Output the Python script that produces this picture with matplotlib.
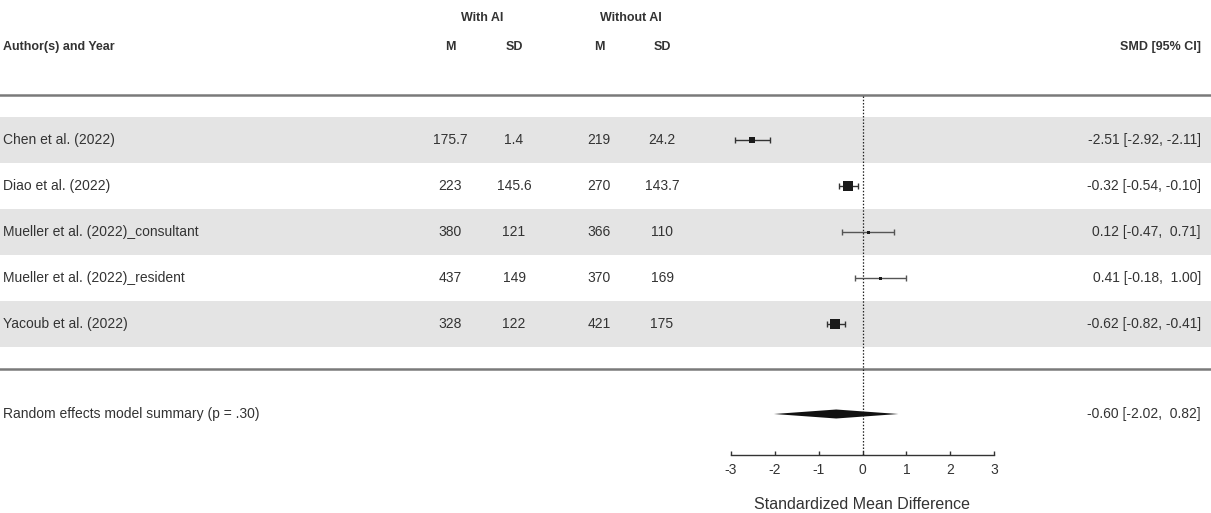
import matplotlib
matplotlib.use("Agg")
import matplotlib.pyplot as plt
import numpy as np
from matplotlib.patches import Polygon, Rectangle

plt.rcParams['font.family'] = ['Liberation Sans', 'DejaVu Sans']

# ---- data -------------------------------------------------------------
studies = [
    "Chen et al. (2022)",
    "Diao et al. (2022)",
    "Mueller et al. (2022)_consultant",
    "Mueller et al. (2022)_resident",
    "Yacoub et al. (2022)",
]
ai_mean = [175.7, 223, 380, 437, 328]
ai_sd = [1.4, 145.6, 121, 149, 122]
noai_mean = [219, 270, 366, 370, 421]
noai_sd = [24.2, 143.7, 110, 169, 175]
smd = [-2.51, -0.32, 0.12, 0.41, -0.62]
ci_low = [-2.92, -0.54, -0.47, -0.18, -0.82]
ci_high = [-2.11, -0.10, 0.71, 1.00, -0.41]

summary_label = "Random effects model summary (p = .30)"
summary_smd = -0.60
summary_low = -2.02
summary_high = 0.82

x_ticks = [-3, -2, -1, 0, 1, 2, 3]
x_label = "Standardized Mean Difference"

# ---- layout (pixel coordinates, y downward) ---------------------------
W, H = 1211, 513
TXT = "#333333"
BAND = "#e4e4e4"
RULE = "#7a7a7a"
row_y = [140 + 46 * i for i in range(len(studies))]
sum_y = 414
col_m1, col_sd1, col_m2, col_sd2 = 450, 514, 599, 662
right_x = 1201
fs = 10

fig = plt.figure(figsize=(W / 100, H / 100), dpi=100)
ax = fig.add_axes([0, 0, 1, 1])
ax.set_xlim(0, W)
ax.set_ylim(H, 0)
ax.axis("off")

# alternating row bands
for i, y in enumerate(row_y):
    if i % 2 == 0:
        ax.add_patch(Rectangle((0, y - 23), W, 46, color=BAND, lw=0, zorder=0))

# horizontal rules
ax.plot([0, W], [95, 95], color=RULE, lw=1.8, zorder=1)
ax.plot([0, W], [369, 369], color=RULE, lw=1.8, zorder=1)

# header
hkw = dict(fontsize=9, fontweight="bold", color=TXT, va="center")
ax.text((col_m1 + col_sd1) / 2, 18, "With AI", ha="center", **hkw)
ax.text((col_m2 + col_sd2) / 2, 18, "Without AI", ha="center", **hkw)
ax.text(3, 47, "Author(s) and Year", ha="left", **hkw)
for x, lab in zip([col_m1, col_sd1, col_m2, col_sd2], ["M", "SD", "M", "SD"]):
    ax.text(x, 47, lab, ha="center", **hkw)
ax.text(right_x, 47, "SMD [95% CI]", ha="right", **hkw)

# study rows
tkw = dict(fontsize=fs, color=TXT, va="center")
for i, y in enumerate(row_y):
    ax.text(3, y, studies[i], ha="left", **tkw)
    ax.text(col_m1, y, f"{ai_mean[i]:g}", ha="center", **tkw)
    ax.text(col_sd1, y, f"{ai_sd[i]:g}", ha="center", **tkw)
    ax.text(col_m2, y, f"{noai_mean[i]:g}", ha="center", **tkw)
    ax.text(col_sd2, y, f"{noai_sd[i]:g}", ha="center", **tkw)
    ax.text(right_x, y, f"{smd[i]:.2f} [{ci_low[i]:.2f}, {ci_high[i]:5.2f}]",
            ha="right", **tkw)

ax.text(3, sum_y, summary_label, ha="left", **tkw)
ax.text(right_x, sum_y,
        f"{summary_smd:.2f} [{summary_low:.2f}, {summary_high:5.2f}]",
        ha="right", **tkw)

# ---- forest panel -----------------------------------------------------
x0_px, x1_px, top_px, axis_px = 731, 994, 95, 455
fax = fig.add_axes([x0_px / W, (H - axis_px) / H,
                    (x1_px - x0_px) / W, (axis_px - top_px) / H])
fax.set_xlim(-3, 3)
fax.set_ylim(axis_px, top_px)
fax.patch.set_visible(False)
for s in ("top", "left", "right"):
    fax.spines[s].set_visible(False)
fax.spines["bottom"].set_color("#333333")
fax.spines["bottom"].set_linewidth(1.0)
fax.set_yticks([])
fax.set_xticks(x_ticks)
fax.set_xticklabels([f"{t}" for t in x_ticks])
fax.tick_params(axis="x", direction="in", length=3, width=1.0,
                color="#333333", labelsize=10, labelcolor=TXT, pad=6)
fax.set_xlabel(x_label, fontsize=11.5, color=TXT, labelpad=14)

# reference line
fax.vlines(0, top_px + 1, axis_px, colors="#222222", lw=0.9,
           linestyles=(0, (1.2, 1.4)), zorder=3)

# marker sizes from inverse-variance weights
se = (np.array(ci_high) - np.array(ci_low)) / 3.92
w = 1 / se ** 2
wn = (w - w.min()) / (w.max() - w.min())
size_px = 3.0 + 7.5 * wn ** 0.35

for i, y in enumerate(row_y):
    lc = "#333333" if wn[i] > 0.05 else "#555555"
    fax.hlines(y, ci_low[i], ci_high[i], colors=lc, lw=1.0, zorder=4)
    fax.vlines([ci_low[i], ci_high[i]], y - 3, y + 3, colors=lc, lw=1.0, zorder=4)
    fax.scatter([smd[i]], [y], marker="s", s=(size_px[i] * 0.72) ** 2,
                color="#1a1a1a", lw=0, zorder=5)

# summary diamond
dia = Polygon([(summary_low, sum_y), (summary_smd, sum_y - 4.5),
               (summary_high, sum_y), (summary_smd, sum_y + 4.5)],
              closed=True, color="#111111", lw=0, zorder=5)
fax.add_patch(dia)

fig.savefig("out.png", dpi=100)
